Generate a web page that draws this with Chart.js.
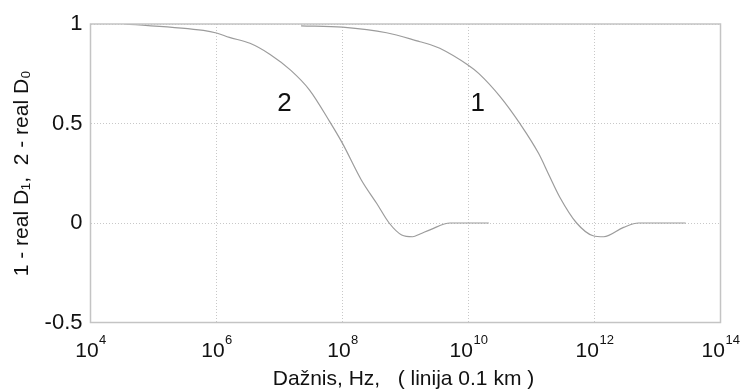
<!DOCTYPE html>
<html><head><meta charset="utf-8">
<script src="https://cdn.jsdelivr.net/npm/chart.js@4/dist/chart.umd.min.js"></script>
<style>html,body{margin:0;padding:0;background:#fff}#wrap{width:742px;height:390px;position:relative}</style>
</head><body><div id="wrap"><canvas id="c"></canvas></div>
<script>
// Curve 1: real D1
const curve1Freq = [2.2e7, 1.0e8, 5.0e8, 1.7e9, 2.5e9, 3.5e9, 9.8e9, 1.45e10, 3.2e10, 6.6e10, 1.3e11, 1.9e11, 2.8e11, 5.2e11, 9.5e11, 1.4e12, 2.9e12, 5.0e12, 2.8e13];
const curve1Val  = [0.991, 0.984, 0.956, 0.911, 0.896, 0.878, 0.794, 0.752, 0.634, 0.498, 0.349, 0.24, 0.131, 0, -0.064, -0.069, -0.022, 0, 0];
// Curve 2: real D0
const curve2Freq = [3.5e4, 6.2e5, 1.0e6, 1.6e6, 3.4e6, 7.1e6, 1.5e7, 3.0e7, 6.3e7, 1.0e8, 2.0e8, 3.5e8, 5.5e8, 8.7e8, 1.3e9, 1.7e9, 2.5e9, 5.1e9, 2.1e10];
const curve2Val  = [1.0, 0.968, 0.955, 0.933, 0.903, 0.847, 0.768, 0.668, 0.508, 0.40, 0.215, 0.098, 0, -0.06, -0.069, -0.055, -0.033, 0, 0];
// Curve labels
const curveLabels = ['1', '2'];
const labelFreq = [1.4e10, 1.2e7];
const labelVal = [0.6, 0.6];
// Axes
const xTickValues = [1e4, 1e6, 1e8, 1e10, 1e12, 1e14];
const xTickExponents = ['4', '6', '8', '10', '12', '14'];
const yTickValues = [-0.5, 0, 0.5, 1];
const xTitle = 'Dažnis, Hz,   ( linija 0.1 km )';
const yTitle = '1 - real D\u2081,  2 - real D\u2080';

const FONT = '"Liberation Sans", Arial, sans-serif';
const toPts = (fx, vy) => fx.map((f, i) => ({x: f, y: vy[i]}));

const overlay = {
  id: 'overlay',
  afterDraw(chart) {
    const ctx = chart.ctx, a = chart.chartArea;
    const xs = chart.scales.x, ys = chart.scales.y;
    ctx.save();
    // box
    ctx.strokeStyle = '#c4c4c4';
    ctx.lineWidth = 1.5;
    ctx.strokeRect(a.left, a.top, a.right - a.left, a.bottom - a.top);
    // curve labels
    ctx.fillStyle = '#111';
    ctx.font = '26px ' + FONT;
    ctx.textAlign = 'center';
    ctx.textBaseline = 'middle';
    curveLabels.forEach((t, i) => {
      ctx.fillText(t, xs.getPixelForValue(labelFreq[i]), ys.getPixelForValue(labelVal[i]));
    });
    // x tick labels 10^n
    ctx.textBaseline = 'alphabetic';
    ctx.textAlign = 'left';
    xTickValues.forEach((v, i) => {
      const px = xs.getPixelForValue(v);
      ctx.font = '21px ' + FONT;
      const wb = ctx.measureText('10').width;
      ctx.font = '13px ' + FONT;
      const we = ctx.measureText(xTickExponents[i]).width;
      const x0 = px - (wb + we) / 2;
      ctx.font = '21px ' + FONT;
      ctx.fillText('10', x0, a.bottom + 34);
      ctx.font = '13px ' + FONT;
      ctx.fillText(xTickExponents[i], x0 + wb + 0.5, a.bottom + 21);
    });
    // x title
    ctx.font = '21px ' + FONT;
    ctx.textAlign = 'center';
    ctx.textBaseline = 'middle';
    ctx.fillText(xTitle, (a.left + a.right) / 2 - 2, a.bottom + 57);
    // y title
    ctx.translate(22, (a.top + a.bottom) / 2);
    ctx.rotate(-Math.PI / 2);
    ctx.fillText(yTitle, 0, 0);
    ctx.restore();
  }
};

new Chart(document.getElementById('c'), {
  type: 'line',
  data: {
    datasets: [
      {label: curveLabels[0], data: toPts(curve1Freq, curve1Val)},
      {label: curveLabels[1], data: toPts(curve2Freq, curve2Val)}
    ].map(d => Object.assign(d, {borderColor: '#9c9c9c', borderWidth: 1.2, pointRadius: 0, fill: false, cubicInterpolationMode: 'monotone'}))
  },
  options: {
    responsive: true,
    maintainAspectRatio: false,
    animation: false,
    layout: {padding: {top: 24, right: 21.5, left: 0, bottom: 0}},
    plugins: {legend: {display: false}, tooltip: {enabled: false}},
    scales: {
      x: {
        type: 'logarithmic', min: 1e4, max: 1e14,
        afterBuildTicks: s => { s.ticks = xTickValues.map(v => ({value: v})); },
        afterFit: s => { s.height = 67.5; },
        ticks: {display: false},
        grid: {color: '#c8c8c8', lineWidth: 1, drawTicks: false},
        border: {display: false, dash: [1, 2]}
      },
      y: {
        min: -0.5, max: 1,
        afterBuildTicks: s => { s.ticks = yTickValues.map(v => ({value: v})); },
        afterFit: s => { s.width = 90.5; },
        ticks: {color: '#111', padding: 8, font: {family: FONT, size: 22}, callback: v => String(v)},
        grid: {color: '#c8c8c8', lineWidth: 1, drawTicks: false},
        border: {display: false, dash: [1, 2]}
      }
    }
  },
  plugins: [overlay]
});
</script>
</body></html>
